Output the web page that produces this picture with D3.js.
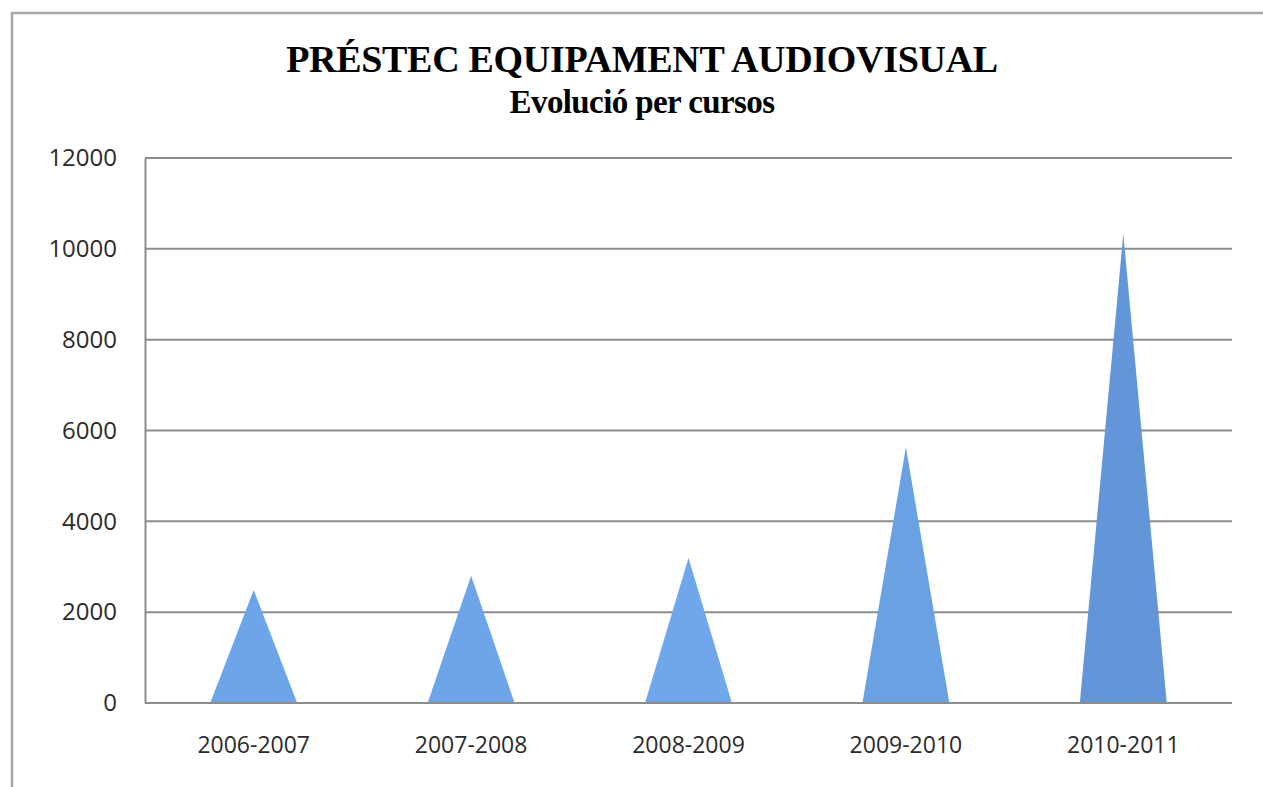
<!DOCTYPE html>
<html>
<head>
<meta charset="utf-8">
<script src="https://cdn.jsdelivr.net/npm/d3@7"></script>
<style>
  body { margin: 0; background: #fff; }
  svg { display: block; }
</style>
</head>
<body>
<div id="chart"></div>
<script>
// dades del gràfic
const cursos = ["2006-2007", "2007-2008", "2008-2009", "2009-2010", "2010-2011"];
const prestecs = [2490, 2800, 3190, 5630, 10330];
const yTicks = [0, 2000, 4000, 6000, 8000, 10000, 12000];
const titol = "PRÉSTEC EQUIPAMENT AUDIOVISUAL";
const subtitol = "Evolució per cursos";
const colors = ["#6ea5e8", "#6ea5e8", "#6fa7ea", "#6aa1e3", "#6395d9"];

const width = 1263, height = 787;
const margin = { top: 158, right: 31, bottom: 84, left: 145 };

const svg = d3.select("#chart")
  .append("svg")
  .attr("width", width)
  .attr("height", height);

// marc exterior
svg.append("rect")
  .attr("x", 12)
  .attr("y", 13)
  .attr("width", 1400)
  .attr("height", 900)
  .attr("fill", "none")
  .attr("stroke", "#a8a8a8")
  .attr("stroke-width", 2.5);

// titols
svg.append("text")
  .attr("x", 642)
  .attr("y", 72)
  .attr("text-anchor", "middle")
  .style("font-family", "'Liberation Serif', 'Times New Roman', serif")
  .style("font-weight", "bold")
  .style("font-size", "38px")
  .style("letter-spacing", "-0.3px")
  .text(titol);

svg.append("text")
  .attr("x", 642)
  .attr("y", 113)
  .attr("text-anchor", "middle")
  .style("font-family", "'Liberation Serif', 'Times New Roman', serif")
  .style("font-weight", "bold")
  .style("font-size", "33px")
  .style("letter-spacing", "-0.6px")
  .text(subtitol);

const x = d3.scaleBand()
  .domain(cursos)
  .range([margin.left, width - margin.right])
  .paddingInner(0.6)
  .paddingOuter(0.3);

const y = d3.scaleLinear()
  .domain([0, 12000])
  .range([height - margin.bottom, margin.top]);

// linies de quadricula
svg.append("g")
  .selectAll("line")
  .data(yTicks)
  .join("line")
  .attr("x1", margin.left)
  .attr("x2", width - margin.right)
  .attr("y1", d => y(d))
  .attr("y2", d => y(d))
  .attr("stroke", "#8c8c8c")
  .attr("stroke-width", 2);

// eix Y
const yAxis = svg.append("g")
  .attr("transform", `translate(${margin.left},0)`)
  .call(d3.axisLeft(y).tickValues(yTicks).tickSize(0).tickPadding(28).tickFormat(d3.format("d")));
yAxis.select(".domain").attr("stroke", "#8c8c8c").attr("stroke-width", 2);
yAxis.selectAll("text")
  .style("font-family", "'Open Sans', sans-serif")
  .style("font-size", "24px")
  .attr("fill", "#2b2b2b");

// piramides
svg.append("g")
  .selectAll("path")
  .data(cursos)
  .join("path")
  .attr("d", (d, i) => {
    const x0 = x(d), x1 = x(d) + x.bandwidth();
    return `M${x0},${y(0)}L${(x0 + x1) / 2},${y(prestecs[i])}L${x1},${y(0)}Z`;
  })
  .attr("fill", (d, i) => colors[i]);

// linia zero
svg.append("line")
  .attr("x1", margin.left)
  .attr("x2", width - margin.right)
  .attr("y1", y(0))
  .attr("y2", y(0))
  .attr("stroke", "#8c8c8c")
  .attr("stroke-width", 2);

// eix X
const xAxis = svg.append("g")
  .attr("transform", `translate(0,${y(0)})`)
  .call(d3.axisBottom(x).tickSize(0).tickPadding(34));
xAxis.select(".domain").remove();
xAxis.selectAll("text")
  .style("font-family", "'Open Sans', sans-serif")
  .style("font-size", "23px")
  .attr("fill", "#2b2b2b");
</script>
</body>
</html>
